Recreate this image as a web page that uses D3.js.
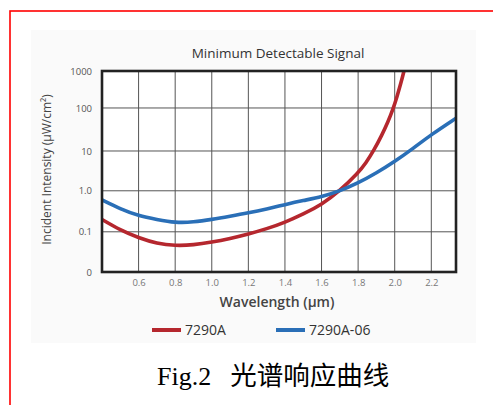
<!DOCTYPE html>
<html>
<head>
<meta charset="utf-8">
<script src="https://cdn.jsdelivr.net/npm/d3@7"></script>
<style>
  body { margin: 0; background: #fff; }
  svg { display: block; }
</style>
</head>
<body>
<div id="chart"></div>
<script>
// Chart values
const TITLE = "Minimum Detectable Signal";
const X_TICKS = [0.6, 0.8, 1.0, 1.2, 1.4, 1.6, 1.8, 2.0, 2.2];
const Y_TICKS = [0.01, 0.1, 1, 10, 100, 1000];
const Y_LABELS = ["0", "0.1", "1.0", "10", "100", "1000"];
const SERIES_NAMES = ["7290A", "7290A-06"];

const WL_7290A = [0.4, 0.5, 0.6, 0.7, 0.8, 0.9, 1.0, 1.1, 1.2, 1.3, 1.4, 1.5, 1.6, 1.7, 1.8, 1.843, 1.887, 1.93, 1.963, 1.991, 2.012, 2.034, 2.051, 2.062];
const VAL_7290A = [0.2, 0.11, 0.071, 0.051, 0.045, 0.047, 0.055, 0.068, 0.088, 0.118, 0.17, 0.27, 0.46, 1.0, 2.8, 5.0, 10.5, 23.5, 47, 95, 198, 474, 1000, 1750];

const WL_7290A06 = [0.4, 0.5, 0.6, 0.7, 0.8, 0.9, 1.0, 1.1, 1.2, 1.3, 1.4, 1.5, 1.6, 1.7, 1.8, 1.9, 2.0, 2.1, 2.2, 2.335];
const VAL_7290A06 = [0.6, 0.36, 0.245, 0.2, 0.166, 0.172, 0.2, 0.24, 0.29, 0.36, 0.46, 0.58, 0.71, 0.99, 1.57, 2.8, 5.45, 11.4, 24.2, 58];

const W = 493, H = 405;
const PLOT = { LEFT: 102, RIGHT: 456, TOP: 71, BOTTOM: 272 };
const COLORS = ["#b5272e", "#2a6fb7"];
const FONT = "'Open Sans', sans-serif";

const svg = d3.select("#chart").append("svg").attr("width", W).attr("height", H);

// red frame and light panel
svg.append("rect").attr("x", 10).attr("y", 11).attr("width", W + 20).attr("height", H + 20)
  .attr("fill", "none").attr("stroke", "#ff0000").attr("stroke-width", 1.6);
svg.append("rect").attr("x", 31).attr("y", 30).attr("width", 445).attr("height", 313).attr("fill", "#fafafa");

// scales (the original decades are not evenly spaced, so piecewise log)
const x = d3.scaleLinear().domain([0.4, 2.335]).range([PLOT.LEFT, PLOT.RIGHT]);
const plotH = PLOT.BOTTOM - PLOT.TOP;
const y = d3.scaleLog().domain(Y_TICKS)
  .range([1, 0.8, 0.596, 0.398, 0.184, 0].map(f => PLOT.TOP + f * plotH));

svg.append("text").attr("x", (PLOT.LEFT + PLOT.RIGHT) / 2 - 1).attr("y", 58)
  .attr("text-anchor", "middle").attr("font-family", FONT).attr("font-size", "13.5px")
  .attr("fill", "#333").text(TITLE);

svg.append("rect").attr("x", PLOT.LEFT).attr("y", PLOT.TOP).attr("width", PLOT.RIGHT - PLOT.LEFT)
  .attr("height", plotH).attr("fill", "#fff");

// grid
const grid = svg.append("g").attr("stroke", "#555").attr("stroke-width", 1);
grid.selectAll(".vg").data(X_TICKS).enter().append("line")
  .attr("x1", d => x(d)).attr("x2", d => x(d)).attr("y1", PLOT.TOP).attr("y2", PLOT.BOTTOM);
grid.selectAll(".hg").data(Y_TICKS).enter().append("line")
  .attr("y1", d => y(d)).attr("y2", d => y(d)).attr("x1", PLOT.LEFT).attr("x2", PLOT.RIGHT);

// axes
const xAxis = d3.axisBottom(x).tickValues(X_TICKS).tickFormat(d3.format(".1f")).tickSize(0).tickPadding(7);
svg.append("g").attr("transform", `translate(0,${PLOT.BOTTOM})`).call(xAxis)
  .call(g => g.select(".domain").remove())
  .selectAll("text").attr("font-family", FONT).attr("font-size", "9.5px").attr("fill", "#777");

const yAxis = d3.axisLeft(y).tickValues(Y_TICKS).tickFormat((d, i) => Y_LABELS[i]).tickSize(0).tickPadding(10);
svg.append("g").attr("transform", `translate(${PLOT.LEFT},0)`).call(yAxis)
  .call(g => g.select(".domain").remove())
  .selectAll("text").attr("font-family", FONT).attr("font-size", "9.5px").attr("fill", "#555");

// curves
svg.append("clipPath").attr("id", "plot-clip").append("rect")
  .attr("x", PLOT.LEFT).attr("y", PLOT.TOP).attr("width", PLOT.RIGHT - PLOT.LEFT).attr("height", plotH);

const line = d3.line().curve(d3.curveBasis).x(d => x(d[0])).y(d => y(d[1]));
const seriesData = [
  d3.zip(WL_7290A, VAL_7290A),
  d3.zip(WL_7290A06, VAL_7290A06)
];
svg.append("g").attr("clip-path", "url(#plot-clip)")
  .selectAll("path").data(seriesData).enter().append("path")
  .attr("d", line).attr("fill", "none")
  .attr("stroke", (d, i) => COLORS[i]).attr("stroke-width", 3.6).attr("stroke-linecap", "round");

// plot frame
svg.append("rect").attr("x", PLOT.LEFT).attr("y", PLOT.TOP).attr("width", PLOT.RIGHT - PLOT.LEFT)
  .attr("height", plotH).attr("fill", "none").attr("stroke", "#222").attr("stroke-width", 2.6);

// axis titles
svg.append("text").attr("x", (PLOT.LEFT + PLOT.RIGHT) / 2 - 2).attr("y", 307)
  .attr("text-anchor", "middle").attr("font-family", FONT).attr("font-size", "14px")
  .attr("font-weight", 600).attr("fill", "#444").text("Wavelength (µm)");

svg.append("text").attr("transform", `translate(51,${(PLOT.TOP + PLOT.BOTTOM) / 2 - 2}) rotate(-90)`)
  .attr("text-anchor", "middle").attr("font-family", FONT).attr("font-size", "12px")
  .attr("fill", "#444").text("Incident Intensity (µW/cm²)");

// legend
const legendX = [152, 276];
const legend = svg.append("g").selectAll("g").data(SERIES_NAMES).enter().append("g")
  .attr("transform", (d, i) => `translate(${legendX[i]},330)`);
legend.append("line").attr("x1", 0).attr("x2", 29).attr("y1", 0).attr("y2", 0)
  .attr("stroke", (d, i) => COLORS[i]).attr("stroke-width", 4);
legend.append("text").attr("x", 33).attr("y", 5).attr("font-family", FONT)
  .attr("font-size", "14px").attr("fill", "#333").text(d => d);

// caption
const cap = svg.append("text").attr("x", 157).attr("y", 385).attr("font-size", "26px").attr("fill", "#000");
cap.append("tspan").attr("font-family", "'Liberation Serif', serif").text("Fig.2");
cap.append("tspan").attr("dx", 19).attr("font-family", "'Noto Sans CJK SC', sans-serif").attr("font-size", "26.5px").text("光谱响应曲线");
</script>
</body>
</html>
